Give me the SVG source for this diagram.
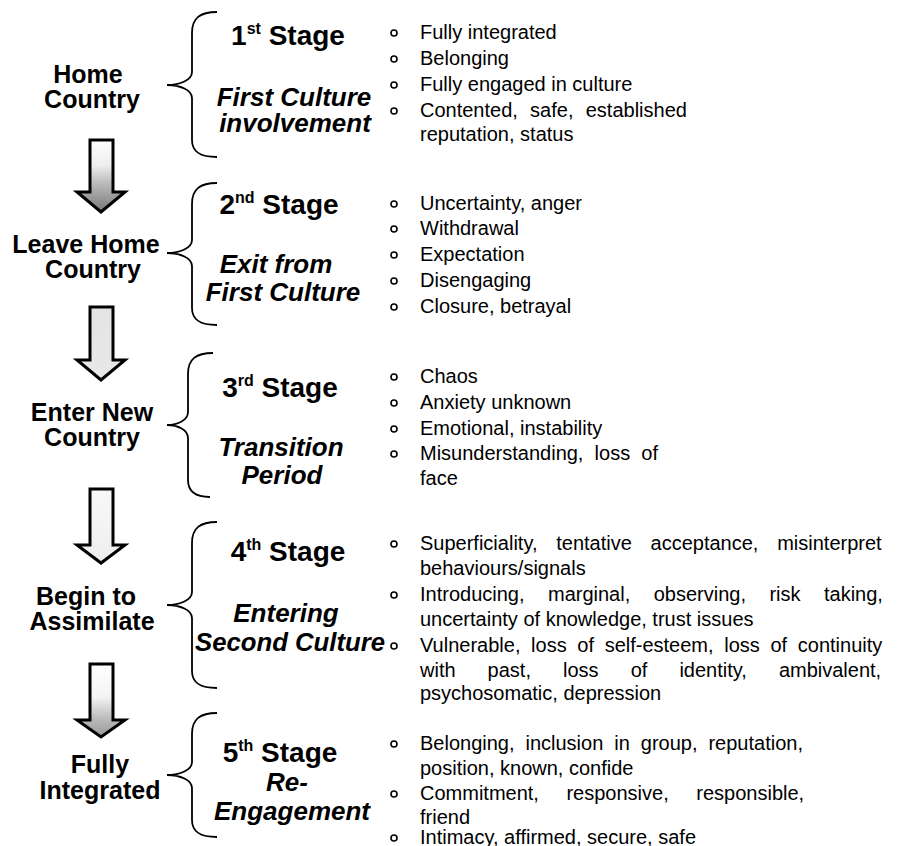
<svg xmlns="http://www.w3.org/2000/svg" width="916" height="846" viewBox="0 0 916 846">
<style>
.lbl{font-family:"Liberation Sans",Arial,sans-serif;font-weight:bold;font-size:25px;fill:#000;text-anchor:middle}
.stg{font-family:"Liberation Sans",Arial,sans-serif;font-weight:bold;font-size:28px;fill:#000;text-anchor:middle}
.sup{font-size:16px}
.it{font-family:"Liberation Sans",Arial,sans-serif;font-weight:bold;font-style:italic;font-size:26px;fill:#000;text-anchor:middle}
.b{font-family:"Liberation Sans",Arial,sans-serif;font-size:20px;fill:#000}
.brace{fill:none;stroke:#000;stroke-width:1.8}
.dot{fill:#fff;stroke:#000;stroke-width:1.6}
.arrow{stroke:#000;stroke-width:3;stroke-linejoin:miter}
</style>
<defs>
<linearGradient id="g1" x1="0" y1="0" x2="0" y2="1"><stop offset="0" stop-color="#fff"/><stop offset="0.35" stop-color="#eee"/><stop offset="0.6" stop-color="#bbb"/><stop offset="1" stop-color="#777"/></linearGradient>
<linearGradient id="g2" x1="0" y1="0" x2="0" y2="1"><stop offset="0" stop-color="#e4e4e4"/><stop offset="1" stop-color="#e8e8e8"/></linearGradient>
<linearGradient id="g3" x1="0" y1="0" x2="0" y2="1"><stop offset="0" stop-color="#f8f8f8"/><stop offset="1" stop-color="#eee"/></linearGradient>
<linearGradient id="g4" x1="0" y1="0" x2="0" y2="1"><stop offset="0" stop-color="#fff"/><stop offset="0.45" stop-color="#f4f4f4"/><stop offset="0.75" stop-color="#bbb"/><stop offset="1" stop-color="#999"/></linearGradient>
</defs>

<g id="connectors">
<polygon class="arrow" fill="url(#g1)" points="90,140 113,140 113,192 125,192 101,212 77,192 90,192"/>
<polygon class="arrow" fill="url(#g2)" points="90,307 113,307 113,360 125,360 101,380 77,360 90,360"/>
<polygon class="arrow" fill="url(#g3)" points="90,489 113,489 113,545 125,545 101,563 77,545 90,545"/>
<polygon class="arrow" fill="url(#g4)" points="90,664 113,664 113,720 125,720 101,737 77,720 90,720"/>
<path class="brace" d="M217,12 C200,12 192,18 192,33 L192,72 C192,80 180,85 167,85 C180,85 192,90 192,98 L192,140 C192,152 200,157 217,157"/>
<path class="brace" d="M217,183 C200,183 192,189 192,204 L192,240 C192,248 180,253 167,253 C180,253 192,258 192,266 L192,308 C192,320 200,325 217,325"/>
<path class="brace" d="M213,353 C196,353 188,359 188,374 L188,412 C188,420 178,425 167,425 C178,425 188,430 188,438 L188,480 C188,492 196,497 210,497"/>
<path class="brace" d="M217,522 C200,522 192,528 192,543 L192,592 C192,600 180,605 167,605 C180,605 192,610 192,618 L192,671 C192,683 200,688 217,688"/>
<path class="brace" d="M217,713 C200,713 192,719 192,734 L192,762 C192,770 180,775 167,775 C180,775 192,780 192,788 L192,820 C192,832 200,837 217,837"/>
</g>

<g id="home">
<text class="lbl" x="88" y="83">Home</text>
<text class="lbl" x="92" y="108">Country</text>
</g>
<g id="leave">
<text class="lbl" x="86" y="253">Leave Home</text>
<text class="lbl" x="93" y="278">Country</text>
</g>
<g id="enter">
<text class="lbl" x="92" y="421">Enter New</text>
<text class="lbl" x="92" y="446">Country</text>
</g>
<g id="begin">
<text class="lbl" x="86" y="605">Begin to</text>
<text class="lbl" x="92" y="630">Assimilate</text>
</g>
<g id="fully">
<text class="lbl" x="100" y="773">Fully</text>
<text class="lbl" x="100" y="799">Integrated</text>
</g>

<g id="stage1">
<text class="stg" x="288" y="45">1<tspan class="sup" dy="-11">st</tspan><tspan dy="11"> Stage</tspan></text>
<text class="it" x="294" y="106">First Culture</text>
<text class="it" x="295" y="132">involvement</text>
</g>
<g id="stage2">
<text class="stg" x="279" y="214">2<tspan class="sup" dy="-11">nd</tspan><tspan dy="11"> Stage</tspan></text>
<text class="it" x="276" y="273">Exit from</text>
<text class="it" x="283" y="301">First Culture</text>
</g>
<g id="stage3">
<text class="stg" x="280" y="397">3<tspan class="sup" dy="-11">rd</tspan><tspan dy="11"> Stage</tspan></text>
<text class="it" x="281" y="456">Transition</text>
<text class="it" x="282" y="484">Period</text>
</g>
<g id="stage4">
<text class="stg" x="288" y="561">4<tspan class="sup" dy="-11">th</tspan><tspan dy="11"> Stage</tspan></text>
<text class="it" x="286" y="622">Entering</text>
<text class="it" x="290" y="651" textLength="190" lengthAdjust="spacingAndGlyphs">Second Culture</text>
</g>
<g id="stage5">
<text class="stg" x="280" y="762">5<tspan class="sup" dy="-11">th</tspan><tspan dy="11"> Stage</tspan></text>
<text class="it" x="287" y="791">Re-</text>
<text class="it" x="292" y="820">Engagement</text>
</g>

<g id="list1">
<circle class="dot" cx="394" cy="33" r="3"/><text class="b" x="420" y="39">Fully integrated</text>
<circle class="dot" cx="394" cy="59" r="3"/><text class="b" x="420" y="65">Belonging</text>
<circle class="dot" cx="394" cy="85" r="3"/><text class="b" x="420" y="91">Fully engaged in culture</text>
<circle class="dot" cx="394" cy="111" r="3"/><text class="b" x="420" y="117" style="word-spacing:6.7px">Contented, safe, established</text>
<text class="b" x="420" y="141">reputation, status</text>
</g>
<g id="list2">
<circle class="dot" cx="394" cy="204" r="3"/><text class="b" x="420" y="210">Uncertainty, anger</text>
<circle class="dot" cx="394" cy="229" r="3"/><text class="b" x="420" y="235">Withdrawal</text>
<circle class="dot" cx="394" cy="255" r="3"/><text class="b" x="420" y="261">Expectation</text>
<circle class="dot" cx="394" cy="281" r="3"/><text class="b" x="420" y="287">Disengaging</text>
<circle class="dot" cx="394" cy="307" r="3"/><text class="b" x="420" y="313">Closure, betrayal</text>
</g>
<g id="list3">
<circle class="dot" cx="394" cy="377" r="3"/><text class="b" x="420" y="383">Chaos</text>
<circle class="dot" cx="394" cy="403" r="3"/><text class="b" x="420" y="409">Anxiety unknown</text>
<circle class="dot" cx="394" cy="429" r="3"/><text class="b" x="420" y="435">Emotional, instability</text>
<circle class="dot" cx="394" cy="454" r="3"/><text class="b" x="420" y="460" style="word-spacing:5.6px">Misunderstanding, loss of</text>
<text class="b" x="420" y="485">face</text>
</g>
<g id="list4">
<circle class="dot" cx="394" cy="544" r="3"/><text class="b" x="420" y="550" style="word-spacing:13.2px">Superficiality, tentative acceptance, misinterpret</text>
<text class="b" x="420" y="575">behaviours/signals</text>
<circle class="dot" cx="394" cy="595" r="3"/><text class="b" x="420" y="601" style="word-spacing:17.9px">Introducing, marginal, observing, risk taking,</text>
<text class="b" x="420" y="626">uncertainty of knowledge, trust issues</text>
<circle class="dot" cx="394" cy="646" r="3"/><text class="b" x="420" y="652" style="word-spacing:5.1px">Vulnerable, loss of self-esteem, loss of continuity</text>
<text class="b" x="420" y="677" style="word-spacing:26.5px">with past, loss of identity, ambivalent,</text>
<text class="b" x="420" y="700">psychosomatic, depression</text>
</g>
<g id="list5">
<circle class="dot" cx="394" cy="744" r="3"/><text class="b" x="420" y="750" style="word-spacing:5.4px">Belonging, inclusion in group, reputation,</text>
<text class="b" x="420" y="775">position, known, confide</text>
<circle class="dot" cx="394" cy="794" r="3"/><text class="b" x="420" y="800" style="word-spacing:22px">Commitment, responsive, responsible,</text>
<text class="b" x="420" y="824">friend</text>
<circle class="dot" cx="394" cy="838" r="3"/><text class="b" x="420" y="844">Intimacy, affirmed, secure, safe</text>
</g>
</svg>
